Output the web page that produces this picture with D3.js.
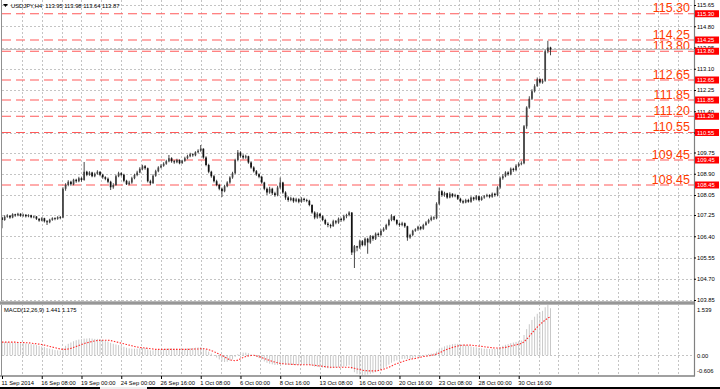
<!DOCTYPE html>
<html>
<head>
<meta charset="utf-8">
<script src="https://cdn.jsdelivr.net/npm/d3@7"></script>
<style>
  body { margin: 0; background: #fff; }
  svg { display: block; }
  text { font-family: "Liberation Sans", Arial, sans-serif; }
</style>
</head>
<body>
<svg></svg>
<script>
// Chart data (USDJPY H4)
var symbolTitle = 'USDJPY,H4  113.95 113.98 113.64 113.87';
var macdTitle = 'MACD(12,26,9) 1.441 1.175';
var firstOpen = 107.15;

var closes = [
  107.05,107.18,107.22,107.15,107.28,107.24,107.30,107.22,107.26,107.20,
  107.24,107.16,107.19,107.10,107.03,107.12,107.00,106.96,107.06,107.12,
  107.10,107.16,107.15,108.30,108.45,108.58,108.48,108.66,108.60,108.72,
  108.65,108.98,108.86,108.95,108.80,108.90,108.98,108.86,108.76,108.70,
  108.58,108.36,108.45,108.80,108.92,108.86,108.62,108.48,108.55,108.72,
  108.85,108.95,109.10,109.20,109.12,108.60,108.52,108.82,109.00,109.15,
  109.22,109.30,109.40,109.52,109.40,109.36,109.45,109.32,109.42,109.52,
  109.60,109.68,109.64,109.76,109.82,109.90,109.55,109.25,108.98,108.80,
  108.60,108.45,108.30,108.20,108.40,108.55,108.75,108.92,109.45,109.75,
  109.62,109.55,109.60,109.35,109.15,109.00,108.88,108.78,108.55,108.30,
  108.15,108.30,108.12,108.05,108.35,108.55,108.15,107.95,107.85,107.92,
  107.80,107.88,107.78,107.90,107.85,107.82,107.65,107.35,107.15,107.30,
  107.20,107.05,106.90,106.85,106.80,107.00,106.95,107.10,107.05,107.20,
  107.25,107.35,105.75,106.00,105.95,106.20,106.05,106.30,106.15,106.40,
  106.30,106.50,106.45,106.62,106.70,106.85,107.05,107.20,107.05,106.90,
  106.85,106.92,106.80,106.35,106.45,106.62,106.68,106.78,106.70,106.85,
  106.95,107.05,107.15,107.12,107.70,108.20,108.05,108.12,107.95,108.10,
  108.00,108.05,107.90,107.80,107.75,107.85,107.78,107.95,107.88,108.00,
  107.85,107.95,108.00,108.05,107.98,108.10,108.05,108.35,108.72,108.80,
  108.95,108.88,109.10,109.05,109.22,109.30,109.32,110.80,111.55,111.90,
  112.20,112.40,112.68,112.55,112.62,113.80,113.95,113.87
];

var highs = [
  107.18,107.24,107.28,107.25,107.32,107.30,107.34,107.32,107.30,107.28,
  107.28,107.26,107.23,107.21,107.12,107.16,107.14,107.05,107.10,107.16,
  107.16,107.20,107.21,108.36,108.52,108.64,108.62,108.70,108.70,108.78,
  108.76,109.37,109.02,109.00,108.98,108.95,109.04,109.00,108.90,108.80,
  108.75,108.62,108.52,108.86,108.98,108.96,108.90,108.66,108.62,108.78,
  108.90,109.02,109.16,109.26,109.25,109.15,108.66,108.88,109.06,109.20,
  109.28,109.36,109.46,109.65,109.56,109.45,109.50,109.48,109.46,109.58,
  109.66,109.74,109.72,109.80,109.88,110.05,109.92,109.60,109.30,109.02,
  108.85,108.66,108.50,108.35,108.46,108.60,108.80,108.98,109.50,109.85,
  109.80,109.68,109.66,109.62,109.40,109.20,109.05,108.92,108.82,108.58,
  108.35,108.38,108.34,108.18,108.42,108.75,108.58,108.20,108.00,107.98,
  107.95,107.94,107.92,107.96,107.94,107.90,107.86,107.68,107.40,107.36,
  107.33,107.24,107.10,106.96,106.90,107.06,107.05,107.15,107.14,107.26,
  107.30,107.40,107.36,106.05,106.02,106.26,106.25,106.35,106.34,106.45,
  106.44,106.55,106.55,106.68,106.76,106.90,107.10,107.28,107.22,107.08,
  106.95,106.98,106.95,106.82,106.50,106.66,106.72,106.82,106.80,106.90,
  107.00,107.10,107.20,107.20,107.76,108.35,108.24,108.18,108.14,108.16,
  108.12,108.10,108.06,107.94,107.86,107.90,107.90,108.00,107.98,108.05,
  108.02,108.00,108.05,108.10,108.08,108.15,108.14,108.40,108.78,108.88,
  109.00,109.00,109.15,109.14,109.28,109.36,109.40,110.85,111.60,112.00,
  112.28,112.48,112.75,112.72,112.70,113.86,114.22,113.98
];

var lows = [
  106.72,107.02,107.14,107.10,107.12,107.18,107.20,107.18,107.18,107.15,
  107.16,107.12,107.12,107.05,106.98,107.00,106.95,106.85,106.92,107.02,
  107.04,107.06,107.08,107.12,108.22,108.40,108.42,108.44,108.54,108.56,
  108.58,108.62,108.80,108.82,108.76,108.76,108.86,108.80,108.70,108.64,
  108.52,108.25,108.30,108.42,108.76,108.80,108.56,108.45,108.44,108.50,
  108.68,108.80,108.92,109.04,109.06,108.55,108.45,108.50,108.78,108.96,
  109.12,109.18,109.26,109.36,109.34,109.30,109.32,109.28,109.30,109.38,
  109.48,109.56,109.58,109.60,109.72,109.78,109.50,109.20,108.92,108.74,
  108.55,108.40,108.24,107.97,108.16,108.36,108.50,108.70,108.88,109.40,
  109.55,109.48,109.50,109.30,109.10,108.95,108.82,108.72,108.50,108.24,
  108.05,108.10,108.05,107.98,108.00,108.30,108.10,107.86,107.78,107.80,
  107.74,107.76,107.72,107.74,107.78,107.76,107.60,107.30,107.08,107.10,
  107.12,107.00,106.85,106.76,106.72,106.78,106.88,106.90,106.98,107.00,
  107.12,107.20,105.65,105.13,105.80,105.90,106.00,106.00,105.70,106.10,
  106.22,106.25,106.38,106.40,106.58,106.65,106.80,107.00,107.00,106.84,
  106.78,106.80,106.74,106.22,106.30,106.40,106.58,106.62,106.64,106.66,
  106.82,106.90,107.00,107.05,107.08,107.65,107.98,107.98,107.90,107.92,
  107.95,107.96,107.85,107.74,107.70,107.72,107.74,107.74,107.82,107.84,
  107.80,107.82,107.90,107.96,107.92,107.94,107.98,108.00,108.30,108.66,
  108.76,108.82,108.84,108.98,109.00,109.16,109.24,109.28,110.70,111.50,
  111.85,112.15,112.38,112.50,112.50,112.58,113.72,113.64
];

var macdMain = [
  0.40,0.40,0.40,0.39,0.39,0.38,0.38,0.37,0.37,0.36,
  0.35,0.34,0.33,0.31,0.29,0.27,0.25,0.22,0.20,0.18,
  0.16,0.15,0.14,0.22,0.29,0.35,0.39,0.43,0.46,0.48,
  0.49,0.51,0.51,0.52,0.51,0.50,0.50,0.49,0.47,0.45,
  0.42,0.38,0.35,0.33,0.31,0.29,0.26,0.23,0.21,0.20,
  0.20,0.20,0.21,0.22,0.22,0.18,0.15,0.15,0.16,0.17,
  0.18,0.19,0.20,0.21,0.21,0.20,0.20,0.19,0.19,0.20,
  0.21,0.22,0.22,0.23,0.24,0.25,0.22,0.17,0.11,0.05,
  -0.01,-0.07,-0.13,-0.19,-0.21,-0.20,-0.17,-0.13,-0.05,0.03,
  0.07,0.08,0.08,0.06,0.03,-0.01,-0.05,-0.09,-0.14,-0.19,
  -0.23,-0.26,-0.28,-0.30,-0.30,-0.28,-0.28,-0.29,-0.30,-0.30,
  -0.30,-0.30,-0.30,-0.29,-0.29,-0.29,-0.30,-0.32,-0.35,-0.36,
  -0.37,-0.38,-0.39,-0.40,-0.40,-0.39,-0.38,-0.37,-0.36,-0.35,
  -0.33,-0.31,-0.42,-0.52,-0.57,-0.59,-0.606,-0.60,-0.59,-0.57,
  -0.55,-0.52,-0.49,-0.45,-0.40,-0.35,-0.29,-0.23,-0.19,-0.16,
  -0.14,-0.12,-0.11,-0.12,-0.12,-0.10,-0.07,-0.04,-0.02,0.00,
  0.02,0.04,0.05,0.06,0.11,0.18,0.23,0.27,0.30,0.32,
  0.34,0.35,0.35,0.34,0.33,0.31,0.29,0.27,0.25,0.24,
  0.22,0.21,0.20,0.20,0.19,0.19,0.19,0.21,0.25,0.29,
  0.32,0.34,0.37,0.39,0.41,0.43,0.45,0.62,0.80,0.95,
  1.08,1.18,1.27,1.32,1.36,1.47,1.539,1.441
];

var macdSignal = [
  0.40,0.40,0.40,0.40,0.40,0.40,0.39,0.39,0.39,0.38,
  0.38,0.37,0.36,0.35,0.34,0.33,0.31,0.29,0.27,0.25,
  0.23,0.21,0.19,0.18,0.18,0.19,0.21,0.24,0.27,0.30,
  0.33,0.36,0.38,0.40,0.42,0.44,0.45,0.46,0.46,0.46,
  0.46,0.45,0.43,0.41,0.39,0.37,0.35,0.33,0.31,0.29,
  0.27,0.25,0.24,0.23,0.22,0.21,0.20,0.19,0.18,0.18,
  0.18,0.18,0.18,0.18,0.18,0.18,0.18,0.18,0.18,0.18,
  0.18,0.18,0.19,0.19,0.19,0.20,0.20,0.19,0.17,0.14,
  0.11,0.07,0.03,-0.01,-0.05,-0.10,-0.14,-0.16,-0.17,-0.15,
  -0.11,-0.07,-0.04,-0.02,-0.01,0.00,-0.02,-0.04,-0.07,-0.10,
  -0.13,-0.16,-0.19,-0.21,-0.23,-0.25,-0.26,-0.27,-0.27,-0.28,
  -0.28,-0.29,-0.29,-0.29,-0.29,-0.29,-0.29,-0.30,-0.31,-0.32,
  -0.33,-0.34,-0.35,-0.36,-0.37,-0.37,-0.37,-0.37,-0.37,-0.37,
  -0.37,-0.37,-0.38,-0.40,-0.42,-0.44,-0.46,-0.47,-0.48,-0.48,
  -0.48,-0.48,-0.47,-0.45,-0.43,-0.40,-0.37,-0.33,-0.29,-0.26,
  -0.23,-0.20,-0.17,-0.15,-0.13,-0.11,-0.10,-0.08,-0.06,-0.04,
  -0.03,-0.02,0.00,0.01,0.04,0.07,0.11,0.15,0.18,0.21,
  0.24,0.26,0.28,0.30,0.31,0.31,0.31,0.31,0.30,0.29,
  0.28,0.27,0.26,0.25,0.24,0.23,0.22,0.22,0.22,0.23,
  0.24,0.26,0.28,0.30,0.32,0.34,0.36,0.41,0.49,0.58,
  0.68,0.77,0.86,0.94,1.01,1.08,1.14,1.175
];

var priceTicks = [115.65, 114.80, 113.95, 113.10, 112.25, 111.40, 110.55, 109.75,
                  108.90, 108.05, 107.25, 106.40, 105.55, 104.70, 103.85];
var macdTicks = [1.539, 0, -0.606];
var macdTickLabels = ['1.539', '0.00', '-0.606'];
var levels = [115.30, 114.25, 113.80, 112.65, 111.85, 111.20, 110.55, 109.45, 108.45];
var bidPrice = 113.87;
var timeLabels = ['11 Sep 2014', '16 Sep 08:00', '19 Sep 00:00', '24 Sep 00:00', '26 Sep 16:00',
                  '1 Oct 08:00', '6 Oct 00:00', '8 Oct 16:00', '13 Oct 08:00', '16 Oct 00:00',
                  '20 Oct 16:00', '23 Oct 08:00', '28 Oct 00:00', '30 Oct 16:00'];
var barsPerLabel = 15;

// Layout
var width = 720, height = 389;
var axisX = 694;
var mainBottom = 301, macdTop = 305, macdBottom = 376;

var svg = d3.select('svg')
  .attr('width', width)
  .attr('height', height)
  .style('background', '#fff');

var x = d3.scaleLinear().domain([0, closes.length - 1]).range([2, 550.5]);
var y = d3.scaleLinear().domain([103.85, 115.65]).range([300, 5]);
var ym = d3.scaleLinear().domain([-0.606, 1.539]).range([375, 305]);

var opens = closes.map(function (c, i) { return i === 0 ? firstOpen : closes[i - 1]; });

// Grid
var grid = svg.append('g').attr('stroke', '#c4c4c4').attr('stroke-dasharray', '2,2');
grid.selectAll('.hg')
  .data(priceTicks)
  .enter().append('line')
    .attr('x1', 2).attr('x2', axisX)
    .attr('y1', function (d) { return Math.round(y(d)) + 0.5; })
    .attr('y2', function (d) { return Math.round(y(d)) + 0.5; });

var vGrid = d3.range(1, 35).map(function (k) { return k * barsPerLabel / 2; });
grid.selectAll('.vg')
  .data(vGrid)
  .enter().append('line')
    .attr('x1', function (d) { return Math.round(x(d)) + 0.5; })
    .attr('x2', function (d) { return Math.round(x(d)) + 0.5; })
    .attr('y1', 0).attr('y2', macdBottom);

grid.append('line')
  .attr('x1', 2).attr('x2', axisX)
  .attr('y1', Math.round(ym(0)) + 0.5).attr('y2', Math.round(ym(0)) + 0.5);

// Support / resistance levels
svg.selectAll('.level')
  .data(levels)
  .enter().append('line')
    .attr('x1', 2).attr('x2', axisX)
    .attr('y1', function (d) { return y(d); })
    .attr('y2', function (d) { return y(d); })
    .attr('stroke', '#ff5a5a')
    .attr('stroke-width', 1.2)
    .attr('stroke-dasharray', '9,5');

svg.selectAll('.levelText')
  .data(levels)
  .enter().append('text')
    .attr('x', 690)
    .attr('y', function (d) { return y(d) - 1.5; })
    .attr('text-anchor', 'end')
    .attr('font-size', '12.5px')
    .attr('fill', '#ff3c00')
    .text(function (d) { return d.toFixed(2); });

// Bid line
svg.append('line')
  .attr('x1', 2).attr('x2', axisX)
  .attr('y1', Math.round(y(bidPrice)) + 0.5).attr('y2', Math.round(y(bidPrice)) + 0.5)
  .attr('stroke', '#c0c0c0');

// Candles
var candles = svg.append('g');
candles.selectAll('.wick')
  .data(closes)
  .enter().append('line')
    .attr('x1', function (d, i) { return x(i); })
    .attr('x2', function (d, i) { return x(i); })
    .attr('y1', function (d, i) { return y(Math.max(highs[i], opens[i], d)); })
    .attr('y2', function (d, i) { return y(Math.min(lows[i], opens[i], d)); })
    .attr('stroke', '#333')
    .attr('stroke-width', 0.9);

candles.selectAll('.body')
  .data(closes)
  .enter().append('rect')
    .attr('x', function (d, i) { return x(i) - 0.85; })
    .attr('width', 1.7)
    .attr('y', function (d, i) { return y(Math.max(opens[i], d)); })
    .attr('height', function (d, i) { return Math.max(0.8, Math.abs(y(opens[i]) - y(d))); })
    .attr('fill', function (d, i) { return d >= opens[i] ? '#444' : '#111'; });

// MACD histogram and signal
svg.append('g').selectAll('line')
  .data(macdMain)
  .enter().append('line')
    .attr('x1', function (d, i) { return x(i); })
    .attr('x2', function (d, i) { return x(i); })
    .attr('y1', ym(0))
    .attr('y2', function (d) { return ym(d); })
    .attr('stroke', '#c8c8c8')
    .attr('stroke-width', 1);

var signalLine = d3.line()
  .x(function (d, i) { return x(i); })
  .y(function (d) { return ym(d); });

svg.append('path')
  .datum(macdSignal)
  .attr('d', signalLine)
  .attr('fill', 'none')
  .attr('stroke', '#ff2a2a')
  .attr('stroke-width', 1.1)
  .attr('stroke-dasharray', '1.5,1.5');

// Frames
svg.append('line').attr('x1', 1.5).attr('x2', 1.5).attr('y1', 0).attr('y2', macdBottom)
  .attr('stroke', '#909090');
svg.append('rect').attr('x', 0).attr('y', mainBottom).attr('width', axisX + 1).attr('height', 4)
  .attr('fill', '#b8b8b8');
svg.append('line').attr('x1', 0).attr('x2', axisX + 1).attr('y1', mainBottom + 2).attr('y2', mainBottom + 2)
  .attr('stroke', '#777').attr('stroke-width', 1.2);
svg.append('line').attr('x1', 0).attr('x2', axisX + 1).attr('y1', macdBottom).attr('y2', macdBottom)
  .attr('stroke', '#808080').attr('stroke-width', 1.6);
svg.append('line').attr('x1', axisX + 0.5).attr('x2', axisX + 0.5).attr('y1', 0).attr('y2', macdBottom)
  .attr('stroke', '#808080').attr('stroke-width', 1.2);

// Price axis
var yAxis = d3.axisRight(y)
  .tickValues(priceTicks)
  .tickFormat(d3.format('.2f'))
  .tickSize(2)
  .tickPadding(1);

svg.append('g')
  .attr('transform', 'translate(' + axisX + ',0)')
  .call(yAxis)
  .call(function (g) { g.select('.domain').remove(); })
  .call(function (g) {
    g.selectAll('text').attr('font-size', '5.8px').attr('fill', '#000')
      .style('font-family', '"Liberation Sans", Arial, sans-serif');
    g.selectAll('line').attr('stroke', '#000');
  });

// Bid marker on the axis (only its top edge shows above the 113.80 box)
svg.append('rect')
  .attr('x', axisX + 1).attr('y', y(bidPrice) - 1)
  .attr('width', 24).attr('height', 2.5)
  .attr('fill', '#000');

// Level boxes on axis
var boxes = svg.selectAll('.lvlBox')
  .data(levels)
  .enter().append('g')
    .attr('transform', function (d) { return 'translate(' + (axisX + 1) + ',' + y(d) + ')'; });
boxes.append('rect')
  .attr('x', 0).attr('y', -3.5)
  .attr('width', 24).attr('height', 7)
  .attr('fill', '#ff0000');
boxes.append('text')
  .attr('x', 2).attr('y', 2)
  .attr('font-size', '5.8px')
  .attr('fill', '#fff')
  .text(function (d) { return d.toFixed(2); });

// MACD axis
var macdAxis = d3.axisRight(ym)
  .tickValues(macdTicks)
  .tickFormat(function (d, i) { return macdTickLabels[i]; })
  .tickSize(0)
  .tickPadding(3);

svg.append('g')
  .attr('transform', 'translate(' + axisX + ',0)')
  .call(macdAxis)
  .call(function (g) { g.select('.domain').remove(); })
  .call(function (g) {
    g.selectAll('text').attr('font-size', '5.8px').attr('fill', '#000')
      .style('font-family', '"Liberation Sans", Arial, sans-serif')
      .attr('dy', function (d, i) { return i === 0 ? '1.1em' : (i === 2 ? '-0.4em' : '0.32em'); });
  });

// Time axis
var labelIdx = timeLabels.map(function (t, k) { return k * barsPerLabel; });
var xAxis = d3.axisBottom(x)
  .tickValues(labelIdx)
  .tickFormat(function (d, i) { return timeLabels[i]; })
  .tickSize(3);

svg.append('g')
  .attr('transform', 'translate(0,' + macdBottom + ')')
  .call(xAxis)
  .call(function (g) { g.select('.domain').remove(); })
  .call(function (g) {
    g.selectAll('line').attr('stroke', '#000');
    g.selectAll('text')
      .attr('font-size', '5.8px').attr('fill', '#000')
      .style('font-family', '"Liberation Sans", Arial, sans-serif')
      .attr('text-anchor', 'start')
      .attr('x', -1).attr('y', 8.5).attr('dy', 0);
  });

// Titles
svg.append('path')
  .attr('d', 'M3,4 L8,4 L5.5,7 Z')
  .attr('fill', '#000');
svg.append('text')
  .attr('x', 11).attr('y', 7.5)
  .attr('font-size', '5.8px')
  .attr('fill', '#000')
  .style('white-space', 'pre')
  .text(symbolTitle);

svg.append('text')
  .attr('x', 4).attr('y', 311.5)
  .attr('font-size', '5.8px')
  .attr('fill', '#000')
  .text(macdTitle);

// Bottom strip (terminal tab bar)
svg.append('rect').attr('x', 0).attr('y', 387).attr('width', width).attr('height', 2).attr('fill', '#000');
svg.append('rect').attr('x', 100).attr('y', 387).attr('width', 47).attr('height', 2).attr('fill', '#eee');
</script>
</body>
</html>
